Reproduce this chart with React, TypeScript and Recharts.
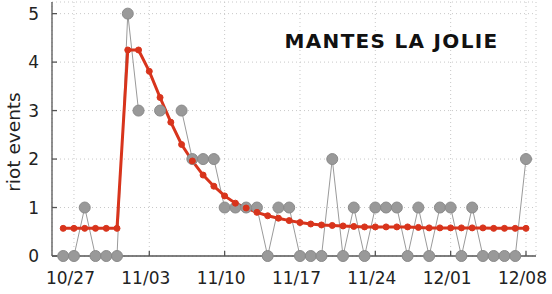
import { LineChart, Line, XAxis, YAxis, CartesianGrid, Label } from "recharts";

// one entry per day, 10/26 .. 12/08
const days = [
  "10/26", "10/27", "10/28", "10/29", "10/30", "10/31",
  "11/01", "11/02", "11/03", "11/04", "11/05", "11/06", "11/07", "11/08", "11/09", "11/10",
  "11/11", "11/12", "11/13", "11/14", "11/15", "11/16", "11/17", "11/18", "11/19", "11/20",
  "11/21", "11/22", "11/23", "11/24", "11/25", "11/26", "11/27", "11/28", "11/29", "11/30",
  "12/01", "12/02", "12/03", "12/04", "12/05", "12/06", "12/07", "12/08",
];

// observed riot events (gray), null = no data
const observed: (number | null)[] = [
  0, 0, 1, 0, 0, 0,
  5, 3, null, 3, null, 3, 2, 2, 2, 1,
  1, 1, 1, 0, 1, 1, 0, 0, 0, 2,
  0, 1, 0, 1, 1, 1, 0, 1, 0, 1,
  1, 0, 1, 0, 0, 0, 0, 2,
];

// model (red)
const model = [
  0.57, 0.57, 0.57, 0.57, 0.57, 0.57,
  4.25, 4.25, 3.81, 3.27, 2.76, 2.3, 1.96, 1.67, 1.44, 1.24,
  1.09, 0.99, 0.9, 0.83, 0.78, 0.73, 0.69, 0.66, 0.64, 0.63,
  0.62, 0.61, 0.6, 0.6, 0.6, 0.6, 0.6, 0.59, 0.58, 0.58,
  0.58, 0.58, 0.58, 0.58, 0.57, 0.57, 0.57, 0.57,
];

const tickDays = ["10/27", "11/03", "11/10", "11/17", "11/24", "12/01", "12/08"];
const yTicks = [0, 1, 2, 3, 4, 5];
const title = "MANTES LA JOLIE";

const data = days.map((d, i) => ({ i, day: d, obs: observed[i], fit: model[i] }));
const xTicks = tickDays.map((d) => days.indexOf(d));

const xDomain = [-1.04, 43.93];
const yDomain = [0, 5.24];
const font = "DejaVu Sans";
const axisColor = "#555";

export default function App() {
  return (
    <div style={{ position: "fixed", left: 0, top: 0, width: 552, height: 294, background: "#fff" }}>
      <LineChart width={552} height={294} data={data} margin={{ top: 2, right: 16, bottom: 0, left: 0 }}>
        <CartesianGrid xAxisId="b" yAxisId="l" stroke="#c8c8c8" strokeDasharray="1 3" />
        <XAxis
          xAxisId="b"
          dataKey="i"
          type="number"
          domain={xDomain}
          ticks={xTicks}
          tickFormatter={(v) => days[v]}
          height={38}
          tickSize={-5}
          tickMargin={21}
          stroke={axisColor}
          strokeWidth={1.3}
          tick={{ fill: "#222", fontSize: 17, fontFamily: font, dx: -3.5 }}
        />
        <XAxis
          xAxisId="t"
          dataKey="i"
          type="number"
          orientation="top"
          domain={xDomain}
          ticks={xTicks}
          height={0}
          tickSize={-5}
          tick={false}
          stroke={axisColor}
          strokeWidth={1.3}
        />
        <YAxis
          yAxisId="l"
          type="number"
          domain={yDomain}
          ticks={yTicks}
          width={52}
          tickSize={-5}
          tickMargin={18}
          stroke={axisColor}
          strokeWidth={1.3}
          tick={{ fill: "#222", fontSize: 17, fontFamily: font }}
        >
          <Label
            content={() => (
              <text
                x={20}
                y={142}
                transform="rotate(-90 20 142)"
                textAnchor="middle"
                fill="#222"
                fontSize={18.5}
                fontFamily={font}
              >
                riot events
              </text>
            )}
          />
        </YAxis>
        <YAxis
          yAxisId="r"
          type="number"
          orientation="right"
          domain={yDomain}
          ticks={yTicks}
          width={0}
          tickSize={-5}
          tick={false}
          stroke={axisColor}
          strokeWidth={1.3}
        />
        <Line
          xAxisId="t"
          yAxisId="r"
          dataKey="obs"
          stroke="#9a9a9a"
          strokeWidth={1}
          dot={{ r: 5.5, fill: "#999", stroke: "#8a8a8a", strokeWidth: 1 }}
          connectNulls={false}
          isAnimationActive={false}
        />
        <Line
          xAxisId="b"
          yAxisId="l"
          dataKey="fit"
          stroke="#d8341c"
          strokeWidth={3}
          dot={{ r: 3, fill: "#d8341c", stroke: "#d8341c", strokeWidth: 1 }}
          isAnimationActive={false}
        />
        <text
          x={391.5}
          y={48}
          textAnchor="middle"
          fontFamily={font}
          fontWeight="bold"
          fontSize={20}
          letterSpacing={1.3}
          fill="#111"
        >
          {title}
        </text>
      </LineChart>
    </div>
  );
}
